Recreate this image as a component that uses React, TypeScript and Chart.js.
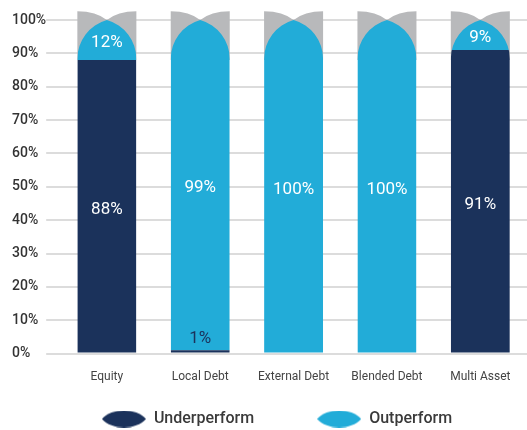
import React, { useEffect, useRef } from 'react';
import { Chart, registerables } from 'chart.js';

Chart.register(...registerables);

// ---- data ----
const categories = ['Equity', 'Local Debt', 'External Debt', 'Blended Debt', 'Multi Asset'];
const seriesNames = ['Underperform', 'Outperform'];
const underperform = [88, 1, 0, 0.3, 91];
const outperform = [12, 99, 100, 99.7, 9];
const yMin = 0;
const yMax = 100;
const yStep = 10;

// ---- styles ----
const NAVY = '#1b325b';
const BLUE = '#22acd8';
const GRAY = '#b8b9bb';
const GRID = '#dcdcdc';
const FONT = "Roboto, 'DejaVu Sans', sans-serif";
const ARCH_RATIO = 0.66; // arch height / bar width
const CAP_RATIO = 0.15; // gray cap height / bar width
const LEGEND_CENTER_X = 277;
const LEGEND_CENTER_Y = 419;
const LEGEND_FONT = 16;

function archPath(ctx: CanvasRenderingContext2D, l: number, r: number, peakY: number, bottomY: number) {
  const w = r - l;
  const h = w * ARCH_RATIO;
  const spring = peakY + h;
  const c = (w * w / 4 + h * h) / w;
  const aL = Math.atan2(-h, w / 2 - c);
  const aR = Math.atan2(-h, c - w / 2);
  ctx.moveTo(l, bottomY);
  ctx.lineTo(l, spring);
  ctx.arc(l + c, spring, c, Math.PI, aL + 2 * Math.PI, false);
  ctx.arc(r - c, spring, c, aR, 0, false);
  ctx.lineTo(r, bottomY);
  ctx.closePath();
}

const archPlugin = {
  id: 'archPlugin',
  beforeDatasetsDraw(chart: any) {
    const ctx: CanvasRenderingContext2D = chart.ctx;
    const meta = chart.getDatasetMeta(0);
    const yScale = chart.scales.y;
    const peakY = yScale.getPixelForValue(yMax);
    const bottom = chart.chartArea.bottom + 2;
    ctx.save();
    meta.data.forEach((el: any) => {
      const { x, width } = el.getProps(['x', 'width'], true);
      const l = x - width / 2;
      const r = x + width / 2;
      const h = width * ARCH_RATIO;
      const top = peakY - width * CAP_RATIO;
      ctx.beginPath();
      ctx.moveTo(l, top);
      ctx.quadraticCurveTo(x - width * 0.18, top, x, peakY);
      ctx.quadraticCurveTo(x + width * 0.18, top, r, top);
      ctx.lineTo(r, peakY + h + 1);
      ctx.lineTo(l, peakY + h + 1);
      ctx.closePath();
      ctx.fillStyle = GRAY;
      ctx.fill();
    });
    ctx.beginPath();
    meta.data.forEach((el: any) => {
      const { x, width } = el.getProps(['x', 'width'], true);
      archPath(ctx, x - width / 2, x + width / 2, peakY, bottom);
    });
    ctx.clip();
  },
  afterDatasetsDraw(chart: any) {
    chart.ctx.restore();
  },
};

const labelPlugin = {
  id: 'labelPlugin',
  afterDraw(chart: any) {
    const ctx: CanvasRenderingContext2D = chart.ctx;
    ctx.save();
    ctx.textAlign = 'center';
    ctx.textBaseline = 'middle';
    ctx.font = `17px ${FONT}`;
    chart.data.datasets.forEach((ds: any, di: number) => {
      const meta = chart.getDatasetMeta(di);
      meta.data.forEach((el: any, i: number) => {
        const v = Math.round(ds.data[i]);
        if (v === 0) return;
        const { y, base } = el.getProps(['y', 'base'], true);
        const x = el.x;
        const h = base - y;
        if (h < 20) {
          ctx.fillStyle = NAVY;
          ctx.fillText(v + '%', x, y - 12);
        } else {
          ctx.fillStyle = '#ffffff';
          ctx.fillText(v + '%', x, (y + base) / 2 + 3);
        }
      });
    });
    ctx.restore();
  },
};

const legendPlace = {
  id: 'legendPlace',
  afterLayout(chart: any) {
    const lg = chart.legend;
    if (!lg || !lg.lineWidths) return;
    const P = lg.options.labels.padding;
    const lw = lg.lineWidths[0];
    const x0 = LEGEND_CENTER_X - (lw - P) / 2;
    lg.left = x0 - P;
    lg.right = x0 + lw;
    lg.top = LEGEND_CENTER_Y - P - LEGEND_FONT / 2;
    lg.bottom = lg.top + P + LEGEND_FONT + 12;
    lg.height = lg.bottom - lg.top;
    lg.width = lg.right - lg.left;
  },
};

function makeLens(color: string) {
  const c = document.createElement('canvas');
  const w = 44;
  const h = 17;
  c.width = w;
  c.height = h;
  const g = c.getContext('2d')!;
  g.fillStyle = color;
  g.beginPath();
  g.moveTo(0, h / 2);
  g.bezierCurveTo(w * 0.22, -h / 6, w * 0.78, -h / 6, w, h / 2);
  g.bezierCurveTo(w * 0.78, h + h / 6, w * 0.22, h + h / 6, 0, h / 2);
  g.closePath();
  g.fill();
  return c;
}

export default function App() {
  const ref = useRef<HTMLCanvasElement>(null);

  useEffect(() => {
    if (!ref.current) return;
    const markers = [makeLens(NAVY), makeLens(BLUE)];
    const chart = new Chart(ref.current, {
      type: 'bar',
      data: {
        labels: categories,
        datasets: [
          { label: seriesNames[0], data: underperform, backgroundColor: NAVY, borderWidth: 0 },
          { label: seriesNames[1], data: outperform, backgroundColor: BLUE, borderWidth: 0 },
        ],
      },
      options: {
        responsive: false,
        animation: false,
        devicePixelRatio: 1,
        layout: { padding: { left: 12, right: 0, top: 20, bottom: -16 } },
        datasets: { bar: { categoryPercentage: 1, barPercentage: 0.632 } },
        scales: {
          x: {
            stacked: true,
            grid: { display: false, drawTicks: false },
            border: { display: false },
            ticks: { color: '#444444', font: { family: FONT, size: 12 }, padding: 16 },
          },
          y: {
            stacked: true,
            min: yMin,
            max: yMax,
            border: { display: false },
            grid: { color: GRID, lineWidth: 2, drawTicks: true, tickLength: 14, tickColor: GRID },
            ticks: {
              stepSize: yStep,
              padding: 0,
              crossAlign: 'far',
              color: '#333333',
              font: { family: FONT, size: 14, weight: '500' },
              callback: (v: any) => v + '%',
            },
          },
        },
        plugins: {
          tooltip: { enabled: false },
          legend: {
            position: 'bottom',
            maxHeight: 46,
            labels: {
              usePointStyle: true,
              pointStyleWidth: 44,
              padding: 63,
              color: '#3a3a3a',
              font: { family: FONT, size: LEGEND_FONT, weight: '500' },
              generateLabels: (ch: any) => {
                const items = (Chart as any).defaults.plugins.legend.labels.generateLabels(ch);
                return items.map((it: any, i: number) => ({ ...it, pointStyle: markers[i] }));
              },
            },
          },
        },
      } as any,
      plugins: [archPlugin, labelPlugin, legendPlace],
    });
    return () => chart.destroy();
  }, []);

  return (
    <div style={{ position: 'absolute', left: 0, top: 0, width: 527, height: 430 }}>
      <canvas ref={ref} width={527} height={430} style={{ display: 'block' }} />
    </div>
  );
}
